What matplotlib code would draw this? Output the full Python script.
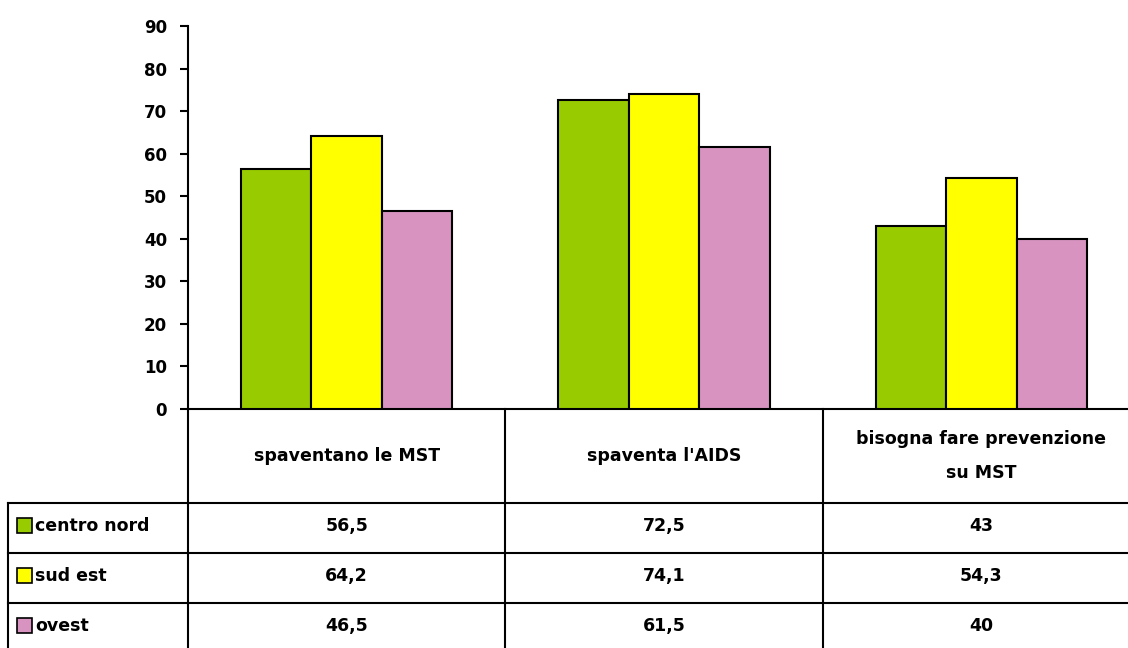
import numpy as np
import matplotlib.pyplot as plt
from matplotlib.patches import Rectangle

# Dati
categorie = ['spaventano le MST', "spaventa l'AIDS", 'bisogna fare prevenzione\nsu MST']
serie = ['centro nord', 'sud est', 'ovest']
centro_nord = [56.5, 72.5, 43]
sud_est = [64.2, 74.1, 54.3]
ovest = [46.5, 61.5, 40]
etichette = [['56,5', '72,5', '43'], ['64,2', '74,1', '54,3'], ['46,5', '61,5', '40']]
colori = ['#99CC00', '#FFFF00', '#D893C1']

plt.rcParams['font.family'] = ['DejaVu Sans']
plt.rcParams['font.weight'] = 'bold'

W, H = 1128, 648
fig = plt.figure(figsize=(W / 100, H / 100), dpi=100)

# asse principale (in pixel della figura)
x0, x1 = 188, 1140
y_zero, y_top = 409, 26
ax = fig.add_axes([x0 / W, (H - y_zero) / H, (x1 - x0) / W, (y_zero - y_top) / H])

n = len(categorie)
valori = [centro_nord, sud_est, ovest]
larg = (1 / 1.5) / 3
x = np.arange(n) + 0.5
for j, (vals, col) in enumerate(zip(valori, colori)):
    ax.bar(x + (j - 1) * larg, vals, larg, color=col, edgecolor='black', linewidth=1.5, zorder=3)

ax.set_xlim(0, n)
ax.set_ylim(0, 90)
ax.set_yticks(range(0, 91, 10))
ax.tick_params(axis='y', direction='out', length=6, width=1.5, labelsize=12, pad=9)
ax.set_xticks([])
for s in ['top', 'right']:
    ax.spines[s].set_visible(False)
ax.spines['left'].set_linewidth(1.5)
ax.spines['bottom'].set_linewidth(1.5)
for lab in ax.get_yticklabels():
    lab.set_fontweight('bold')

# tabella dati sotto il grafico (coordinate in pixel)
tab = fig.add_axes([0, 0, 1, 1])
tab.set_xlim(0, W)
tab.set_ylim(H, 0)
tab.axis('off')
tab.patch.set_alpha(0)

col_w = (x1 - x0) / n
righe_y = [503, 553, 603, H + 5]
lw = 1.5
# verticali colonne
for c in range(n + 1):
    xc = x0 + c * col_w
    tab.plot([xc, xc], [y_zero, H + 5], color='black', lw=lw, clip_on=False)
# bordo sinistro legenda
tab.plot([8, 8], [righe_y[0], H + 5], color='black', lw=lw)
# orizzontali
for yr in righe_y[:-1]:
    tab.plot([8, x1], [yr, yr], color='black', lw=lw)

# intestazioni
for c, cat in enumerate(categorie):
    tab.text(x0 + (c + 0.5) * col_w, (y_zero + righe_y[0]) / 2, cat, ha='center', va='center',
             fontsize=12.5, fontweight='bold', linespacing=2.2)

# righe con legenda
for r, nome in enumerate(serie):
    yc = (righe_y[r] + righe_y[r + 1]) / 2 - 2
    tab.add_patch(Rectangle((17, yc - 8), 15, 15, facecolor=colori[r], edgecolor='black', lw=1.2))
    tab.text(35, yc, nome, ha='left', va='center', fontsize=12.5, fontweight='bold')
    for c in range(n):
        tab.text(x0 + (c + 0.5) * col_w, yc, etichette[r][c], ha='center', va='center',
                 fontsize=12.5, fontweight='bold')

fig.savefig('out.png', dpi=100)
